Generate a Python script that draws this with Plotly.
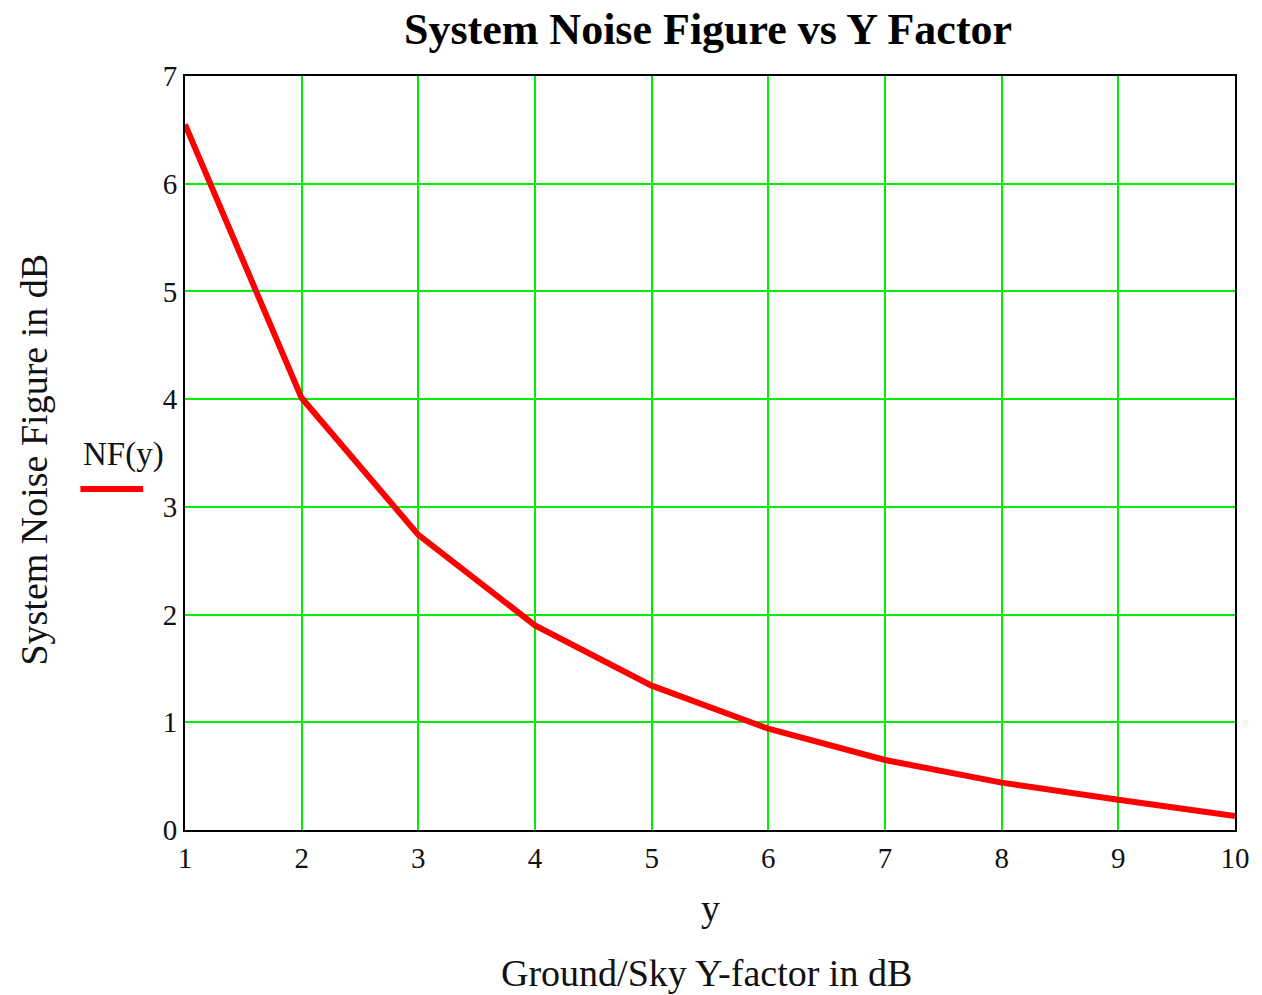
import plotly.graph_objects as go

y_factor_db = [1, 2, 3, 4, 5, 6, 7, 8, 9, 10]
nf_db = [6.55, 4.01, 2.74, 1.90, 1.34, 0.94, 0.65, 0.44, 0.28, 0.13]
x_ticks = [1, 2, 3, 4, 5, 6, 7, 8, 9, 10]
y_ticks = [0, 1, 2, 3, 4, 5, 6, 7]

W, H = 1262, 995
L, R, T, B = 185, 23, 76, 165
pw, ph = W - L - R, H - T - B

def px(x):
    return (x - L) / pw

def py(y):
    return (H - B - y) / ph

serif = "Liberation Serif, Times New Roman, serif"
txt = "#111"

fig = go.Figure()
fig.add_trace(go.Scatter(x=y_factor_db, y=nf_db, mode="lines",
                         line=dict(color="#ff0000", width=6), name="NF(y)",
                         showlegend=False))

axis_common = dict(showline=True, linecolor="black", linewidth=2, mirror=True,
                   showgrid=True, gridcolor="#00ee00", gridwidth=2,
                   zeroline=False, ticks="", tickfont=dict(family=serif, size=29, color=txt))

fig.update_layout(
    width=W, height=H,
    margin=dict(l=L, r=R, t=T, b=B),
    paper_bgcolor="white", plot_bgcolor="white",
    title=dict(text="<b>System Noise Figure vs Y Factor</b>", xref="container",
               x=708 / W, xanchor="center",
               y=1 - 29 / H, yanchor="middle",
               font=dict(family=serif, size=44, color="black")),
    xaxis=dict(range=[1, 10], tickvals=x_ticks, ticklabelstandoff=1, **axis_common),
    yaxis=dict(range=[0, 7], tickvals=y_ticks, ticklabelstandoff=0, **axis_common),
    showlegend=False,
)

annotations = [
    dict(text="System Noise Figure in dB", x=px(33), y=py(460), textangle=-90,
         font=dict(family=serif, size=38, color=txt)),
    dict(text="y", x=px(713), y=py(908), font=dict(family=serif, size=38, color=txt)),
    dict(text="Ground/Sky Y-factor in dB", x=px(708), y=py(973),
         font=dict(family=serif, size=38, color=txt)),
    dict(text="NF(y)", x=px(123), y=py(455), font=dict(family=serif, size=33, color=txt)),
]
for a in annotations:
    fig.add_annotation(xref="paper", yref="paper", showarrow=False,
                       xanchor="center", yanchor="middle", **a)

fig.add_shape(type="line", xref="paper", yref="paper",
              x0=px(80), x1=px(143), y0=py(489), y1=py(489),
              line=dict(color="#ff0000", width=6))

fig.write_html("out.html")
